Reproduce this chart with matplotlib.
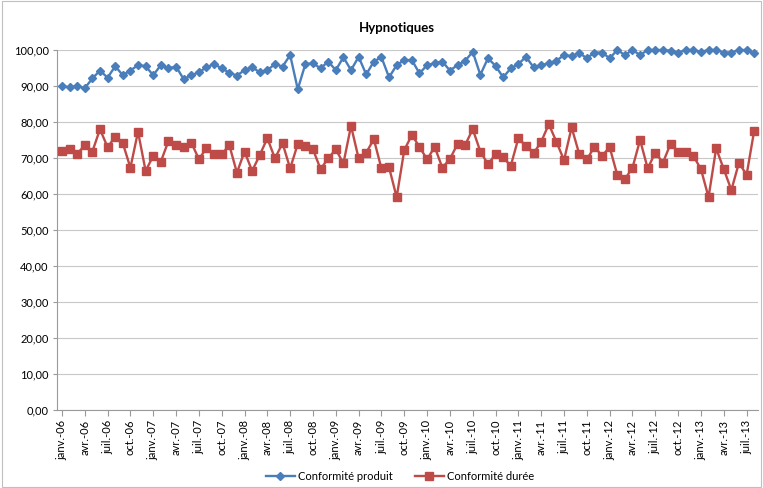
import matplotlib
matplotlib.use("Agg")
import matplotlib.pyplot as plt
from matplotlib.patches import Rectangle

title = "Hypnotiques"
series_names = ["Conformité produit", "Conformité durée"]
month_abbr = ["janv.", "avr.", "juil.", "oct."]
years = ["06", "07", "08", "09", "10", "11", "12", "13"]

conformite_produit = [
    90.0, 89.6, 90.0, 89.4, 92.1, 94.3, 92.3, 95.5, 93.0, 94.3, 95.8, 95.5,
    93.0, 95.8, 94.9, 95.4, 91.9, 93.0, 93.8, 95.2, 96.1, 94.9, 93.7, 92.9,
    94.4, 95.2, 93.8, 94.4, 96.1, 95.4, 98.6, 89.1, 96.1, 96.3, 94.9, 96.8,
    94.4, 98.0, 94.4, 98.1, 93.2, 96.8, 98.0, 92.4, 95.8, 97.2, 97.2, 93.5,
    95.8, 96.3, 96.8, 94.3, 95.8, 97.0, 99.5, 93.1, 97.7, 95.6, 92.4, 94.9,
    96.1, 98.1, 95.2, 95.8, 96.3, 97.0, 98.6, 98.3, 99.2, 97.7, 99.3, 99.3,
    97.7, 100.0, 98.6, 100.0, 98.6, 100.0, 100.0, 100.0, 99.8, 99.3, 100.0, 100.0,
    99.5, 100.0, 100.0, 99.3, 99.3, 100.0, 100.0, 99.1,
]
conformite_duree = [
    72.0, 72.4, 71.1, 73.6, 71.8, 78.0, 73.0, 75.9, 74.1, 67.3, 77.3, 66.4,
    70.6, 69.0, 74.7, 73.6, 73.1, 74.3, 69.7, 72.7, 71.0, 71.0, 73.6, 65.9,
    71.8, 66.4, 70.8, 75.5, 69.9, 74.1, 67.1, 73.9, 73.3, 72.4, 66.9, 69.9,
    72.4, 68.5, 78.9, 69.9, 71.5, 75.2, 67.1, 67.4, 59.1, 72.2, 76.4, 73.1,
    69.6, 73.1, 67.3, 69.7, 73.9, 73.6, 78.0, 71.8, 68.3, 71.0, 70.2, 67.8,
    75.5, 73.3, 71.3, 74.5, 79.4, 74.5, 69.4, 78.5, 71.1, 69.6, 73.1, 70.6,
    73.0, 65.3, 64.1, 67.3, 75.0, 67.1, 71.5, 68.7, 73.9, 71.8, 71.8, 70.6,
    66.9, 59.1, 72.7, 66.9, 61.1, 68.7, 65.3, 77.6,
]

n = len(conformite_produit)
x = list(range(n))
tick_pos = list(range(0, n, 3))
tick_labels = [f"{month_abbr[(i // 3) % 4]}-{years[i // 12]}" for i in tick_pos]

plt.rcParams['font.family'] = ['Lato', 'DejaVu Sans']

fig = plt.figure(figsize=(7.63, 4.88), dpi=100)
fig.patches.append(Rectangle((0.003, 0.003), 0.994, 0.994, transform=fig.transFigure,
                             fill=False, edgecolor="#bfbfbf", linewidth=0.8))
ax = fig.add_axes([57 / 763, 1 - 410 / 488, (758 - 57) / 763, (410 - 50) / 488])

blue = "#4A7EBB"
red = "#BE4B48"
ax.plot(x, conformite_produit, color=blue, lw=1.7, marker="D", ms=4.5,
        mfc=blue, mec=blue, label=series_names[0], clip_on=False, zorder=3)
ax.plot(x, conformite_duree, color=red, lw=1.7, marker="s", ms=5.5,
        mfc=red, mec=red, label=series_names[1], clip_on=False, zorder=3)

ax.set_xlim(-0.65, 91.5)
ax.set_ylim(0, 100)
ax.set_yticks(range(0, 101, 10))
ax.set_yticklabels([f"{v},00" for v in range(0, 101, 10)], fontsize=8)
ax.set_xticks(tick_pos)
ax.set_xticklabels(tick_labels, rotation=90, fontsize=8)
ax.grid(axis="y", color="#c8c8c8", lw=0.8)
ax.set_axisbelow(True)
for s in ["top", "right"]:
    ax.spines[s].set_visible(False)
ax.spines["left"].set_color("#9a9a9a")
ax.spines["bottom"].set_color("#9a9a9a")
ax.tick_params(axis="y", length=3, color="#9a9a9a", pad=3)
ax.tick_params(axis="x", length=4, color="#9a9a9a", pad=3)

fig.text(397 / 763, 1 - 28 / 488, title, ha="center", va="center",
         fontsize=9.5, fontweight="bold")

fig.legend(loc="center", bbox_to_anchor=(400 / 763, 1 - 476 / 488), ncol=2,
           frameon=False, fontsize=8, handlelength=2.6, columnspacing=2.0,
           handletextpad=0.3)

fig.savefig("out.png", dpi=100)
